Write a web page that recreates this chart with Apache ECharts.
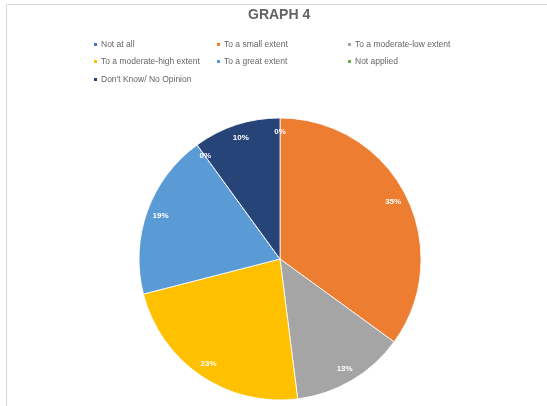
<!DOCTYPE html>
<html>
<head>
<meta charset="utf-8">
<script src="https://cdn.jsdelivr.net/npm/echarts@6/dist/echarts.min.js"></script>
<style>
  html, body { margin: 0; padding: 0; background: #ffffff; }
  #chart { width: 547px; height: 406px; }
</style>
</head>
<body>
<div id="chart"></div>
<script>
// Survey responses, share of answers in percent
const categories = [
  'Not at all',
  'To a small extent',
  'To a moderate-low extent',
  'To a moderate-high extent',
  'To a great extent',
  'Not applied',
  "Don't Know/ No Opinion"
];
const shares = [0, 35, 13, 23, 19, 0, 10];
const colors = ['#4472C4', '#ED7D31', '#A5A5A5', '#FFC000', '#5B9BD5', '#70AD47', '#264478'];

const pieData = categories.map((name, i) => ({ name: name, value: shares[i] }));

// legend grid: three columns, entries flow row by row
const colX = [92, 215, 346];
const rowY = [40, 57, 75];
const legends = categories.map((name, i) => ({
  data: [name],
  left: colX[i % 3],
  top: rowY[Math.floor(i / 3)],
  icon: 'rect',
  itemWidth: 5,
  itemHeight: 5,
  itemGap: 4,
  padding: 0,
  selectedMode: false,
  textStyle: { fontFamily: 'Liberation Sans', fontSize: 8.5, color: '#666666', padding: [0, 0, 0, -2] }
}));

const chart = echarts.init(document.getElementById('chart'), null, { renderer: 'canvas' });
chart.setOption({
  animation: false,
  color: colors,
  title: {
    text: 'GRAPH 4',
    left: 248,
    top: 8,
    padding: 0,
    textStyle: { fontFamily: 'Liberation Sans', fontSize: 14, fontWeight: 'bold', color: '#636363' }
  },
  graphic: [{
    type: 'rect',
    shape: { x: 6.5, y: 4.5, width: 600, height: 500 },
    style: { fill: 'none', stroke: '#d9d9d9', lineWidth: 1 },
    silent: true
  }],
  legend: legends,
  series: [
    {
      // filled sectors
      type: 'pie',
      center: [280, 259],
      radius: [0, 141],
      startAngle: 90,
      clockwise: true,
      data: pieData,
      label: { show: false },
      labelLine: { show: false },
      itemStyle: { borderColor: '#ffffff', borderWidth: 0.8 },
      emphasis: { disabled: true }
    },
    {
      // transparent ring carrying the percentage labels near the rim
      type: 'pie',
      center: [280, 259],
      radius: [107, 141],
      startAngle: 90,
      clockwise: true,
      data: pieData,
      silent: true,
      legendHoverLink: false,
      itemStyle: { color: 'rgba(0,0,0,0)', borderWidth: 0 },
      label: {
        show: true,
        position: 'inside',
        formatter: '{c}%',
        color: '#ffffff',
        fontFamily: 'Liberation Sans',
        fontSize: 8,
        fontWeight: 'bold'
      },
      labelLine: { show: false },
      emphasis: { disabled: true }
    }
  ]
});
</script>
</body>
</html>
